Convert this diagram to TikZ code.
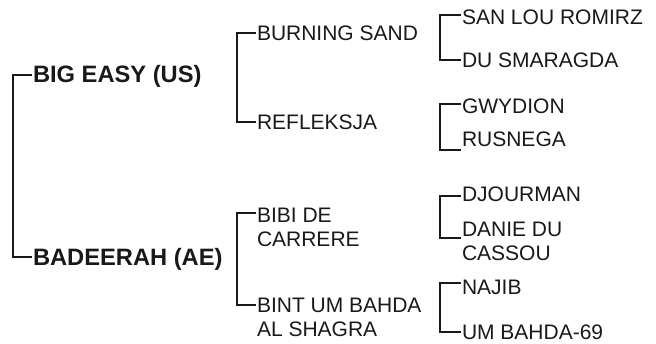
\documentclass[tikz,border=0pt]{standalone}
\usepackage{fontspec}
\setmainfont{Liberation Sans}
\begin{document}
\begin{tikzpicture}[x=1pt,y=1pt,
  nm/.style={inner sep=0pt, outer sep=0pt, anchor=north west, align=left,
    font=\fontsize{21}{24.5}\selectfont, text=black!90},
  bd/.style={inner sep=0pt, outer sep=0pt, anchor=base west,
    font=\fontsize{23.7}{28}\selectfont\bfseries, text=black!90},
  br/.style={line width=2.5pt, black!90, line cap=butt, line join=miter}]
\useasboundingbox (0,0) rectangle (656,-343);
% level 1
\node[bd] (be) at (33,-82) {BIG EASY (US)};
\node[bd] (ba) at (33,-265) {BADEERAH (AE)};
% level 2
\node[nm] (bs) at (257,-26) {BURNING SAND};
\node[nm] (rf) at (257,-115) {REFLEKSJA};
\node[nm] (bb) at (257,-208) {BIBI DE\\CARRERE};
\node[nm] (bu) at (257,-298) {BINT UM BAHDA\\AL SHAGRA};
% level 3
\node[nm] (sl) at (462,-10) {SAN LOU ROMIRZ};
\node[nm] (ds) at (462,-53) {DU SMARAGDA};
\node[nm] (gw) at (462,-99) {GWYDION};
\node[nm] (ru) at (462,-132) {RUSNEGA};
\node[nm] (dj) at (462,-187) {DJOURMAN};
\node[nm] (dd) at (462,-222) {DANIE DU\\CASSOU};
\node[nm] (nj) at (462,-280) {NAJIB};
\node[nm] (ub) at (462,-325) {UM BAHDA-69};
% brackets
\draw[br] ([xshift=-1pt,yshift=7pt]be.base west) -- ++(-19,0) |- ([xshift=-1pt,yshift=8pt]ba.base west);
\draw[br] ([xshift=-1pt,yshift=-7pt]bs.north west) -- ++(-19,0) |- ([xshift=-1pt,yshift=-7pt]rf.north west);
\draw[br] ([xshift=-1pt,yshift=-5pt]bb.north west) -- ++(-19,0) |- ([xshift=-1pt,yshift=-7pt]bu.north west);
\draw[br] ([xshift=-1pt,yshift=-5pt]sl.north west) -- ++(-21,0) |- ([xshift=-1pt,yshift=-7pt]ds.north west);
\draw[br] ([xshift=-1pt,yshift=-5pt]gw.north west) -- ++(-21,0) |- ([xshift=-1pt,yshift=-18pt]ru.north west);
\draw[br] ([xshift=-1pt,yshift=-9pt]dj.north west) -- ++(-21,0) |- ([xshift=-1pt,yshift=-16pt]dd.north west);
\draw[br] ([xshift=-1pt,yshift=-3pt]nj.north west) -- ++(-21,0) |- ([xshift=-1pt,yshift=-7pt]ub.north west);
\end{tikzpicture}
\end{document}
